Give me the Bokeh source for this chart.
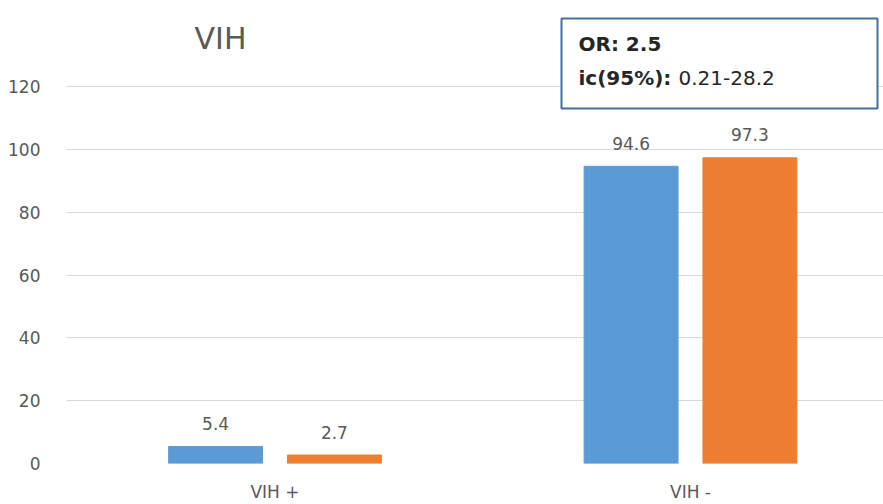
from bokeh.plotting import figure
from bokeh.models import ColumnDataSource, FixedTicker, Range1d, Label, BoxAnnotation
from bokeh.embed import file_html
from bokeh.resources import INLINE
from bokeh.core.properties import value

# --- data -------------------------------------------------------------
categories = ["VIH +", "VIH -"]
series_a = [5.4, 94.6]   # blue series
series_b = [2.7, 97.3]   # orange series
y_ticks = [0, 20, 40, 60, 80, 100, 120]
title_text = "VIH"
or_label, or_value = "OR:", "2.5"
ci_label, ci_value = "ic(95%):", "0.21-28.2"

# --- layout -----------------------------------------------------------
W, H = 883, 504
FRAME_LEFT, FRAME_BOTTOM_PX = 66, 463
CAT0_PX, PX_PER_CAT = 274.5, 415.5
PX_PER_UNIT = 377 / 120.0
BAR_W = 0.226
OFFSET = 0.143
BLUE, ORANGE = "#5B9BD5", "#ED7D31"
GREY_TXT = "#595959"
FONT = "DejaVu Sans"


def dx(px):
    return (px - CAT0_PX) / PX_PER_CAT


def dy(py):
    return (FRAME_BOTTOM_PX - py) / PX_PER_UNIT


p = figure(
    width=W, height=H, output_backend="svg", toolbar_location=None,
    x_range=Range1d(dx(FRAME_LEFT), dx(W)),
    y_range=Range1d(0, dy(0)),
    min_border_left=FRAME_LEFT, min_border_right=0,
    min_border_top=0, min_border_bottom=H - FRAME_BOTTOM_PX,
)
p.outline_line_color = None
p.background_fill_color = "white"
p.border_fill_color = "white"

idx = list(range(len(categories)))
src_a = ColumnDataSource(dict(x=[i - OFFSET for i in idx], top=series_a,
                              label=[f"{v:.1f}" for v in series_a]))
src_b = ColumnDataSource(dict(x=[i + OFFSET for i in idx], top=series_b,
                              label=[f"{v:.1f}" for v in series_b]))

p.vbar(x="x", top="top", width=BAR_W, color=BLUE, source=src_a)
p.vbar(x="x", top="top", width=BAR_W, color=ORANGE, source=src_b)

for src in (src_a, src_b):
    p.text(x="x", y="top", text="label", source=src, text_align="center",
           text_baseline="middle", y_offset=-23, text_font=value(FONT),
           text_font_size="17px", text_color=GREY_TXT)

# axes
p.yaxis.ticker = FixedTicker(ticks=y_ticks)
p.ygrid.ticker = FixedTicker(ticks=y_ticks)
p.ygrid.grid_line_color = "#D9D9D9"
p.ygrid.grid_line_width = 1
p.xgrid.grid_line_color = None

p.xaxis.ticker = FixedTicker(ticks=idx)
p.xaxis.major_label_overrides = {i: c for i, c in zip(idx, categories)}

for ax in (p.xaxis, p.yaxis):
    ax.axis_line_color = None
    ax.major_tick_line_color = None
    ax.minor_tick_line_color = None
    ax.major_label_text_font = FONT
    ax.major_label_text_font_size = "17px"
    ax.major_label_text_color = GREY_TXT
p.yaxis.major_label_standoff = 20
p.xaxis.major_label_standoff = 12

# chart title
p.add_layout(Label(x=dx(220), y=dy(38), text=title_text, text_align="center",
                   text_baseline="middle", text_font=FONT,
                   text_font_size="30px", text_color=GREY_TXT))

# odds-ratio box
p.add_layout(BoxAnnotation(left=dx(561), right=dx(877), top=dy(18), bottom=dy(108),
                           fill_color="white", fill_alpha=1.0,
                           line_color="#41719C", line_alpha=1.0, line_width=2))
p.add_layout(Label(x=dx(578), y=dy(43), text=f"{or_label} {or_value}",
                   text_baseline="middle", text_font=FONT, text_font_style="bold",
                   text_font_size="20px", text_color="#262626"))
p.add_layout(Label(x=dx(578), y=dy(77), text=ci_label,
                   text_baseline="middle", text_font=FONT, text_font_style="bold",
                   text_font_size="20px", text_color="#262626"))
p.add_layout(Label(x=dx(678), y=dy(77), text=ci_value,
                   text_baseline="middle", text_font=FONT,
                   text_font_size="20px", text_color="#262626"))

open("out.html", "w").write(file_html(p, INLINE))
